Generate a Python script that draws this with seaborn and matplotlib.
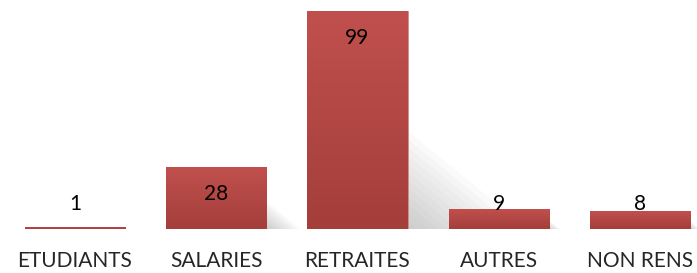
import matplotlib
matplotlib.use("Agg")
import matplotlib.pyplot as plt
import matplotlib.colors as mcolors
from matplotlib.patches import Polygon
import numpy as np
import pandas as pd
import seaborn as sns

categories = ["ETUDIANTS", "SALARIES", "RETRAITES", "AUTRES", "NON RENS"]
values = [1, 28, 99, 9, 8]

df = pd.DataFrame({"cat": categories, "val": values})

sns.set_style("white")
plt.rcParams['font.family'] = ['Lato', 'DejaVu Sans']

fig = plt.figure(figsize=(6.97, 2.73), dpi=100)
ax = fig.add_axes([0, 44 / 273, 1, 229 / 273])

sns.barplot(data=df, x="cat", y="val", color="#C0504D", width=0.71,
            saturation=1, ax=ax, zorder=3)

px_x = 141.25  # pixels per category
ax.set_xlim(-75 / px_x, (697 - 75) / px_x)
ax.set_ylim(0, 99 * 229 / 218)
ppu = 218 / 99  # pixels per data unit

# gradient fill + shadow for each bar
cmap = mcolors.LinearSegmentedColormap.from_list("bar", ["#A43E3B", "#C0504D"])
grad = np.linspace(0, 1, 256).reshape(-1, 1)
for p in ax.patches:
    x0, w, h = p.get_x(), p.get_width(), p.get_height()
    p.set_edgecolor("#D98A88")
    p.set_linewidth(0.6)
    im = ax.imshow(grad, cmap=cmap, aspect="auto", origin="lower",
                   extent=[x0, x0 + w, 0, h], zorder=3.5)
    im.set_clip_path(p)
    # soft perspective shadow
    xr = x0 + w
    for k in range(12):
        f = 1 - k / 12
        sh = Polygon([(xr, 0), (xr, h * 0.45 * f), (xr + h * 0.55 * f / px_x * ppu, 0)],
                     closed=True, facecolor="#7f7f7f", edgecolor="none",
                     alpha=0.035, zorder=2)
        ax.add_patch(sh)

# value labels
for i, v in enumerate(values):
    y = max(v - 27 / ppu, 25 / ppu)
    ax.text(i, y, str(v), ha="center", va="center", fontsize=15,
            color="black", zorder=5)

ax.set_xlabel("")
ax.set_ylabel("")
ax.set_yticks([])
ax.tick_params(axis="x", length=0, pad=23, labelsize=15)
for t in ax.get_xticklabels():
    t.set_verticalalignment("center")
for s in ax.spines.values():
    s.set_visible(False)
ax.set_facecolor("white")

fig.savefig("out.png", dpi=100)
